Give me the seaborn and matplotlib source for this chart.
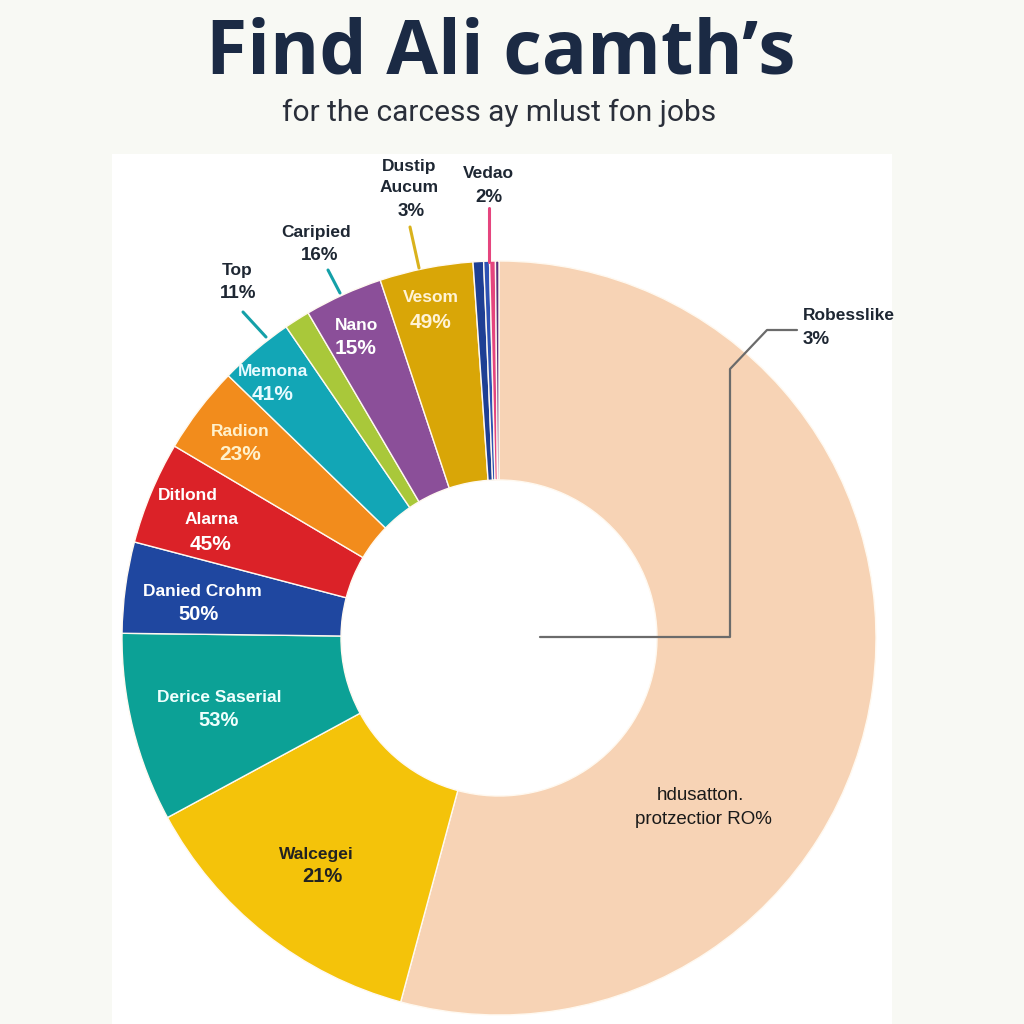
import matplotlib
matplotlib.use("Agg")
import matplotlib.pyplot as plt
import seaborn as sns
from matplotlib.patches import Rectangle

# ---------------- data ----------------
categories = ["hdusatton. protzectior", "Walcegei", "Derice Saserial", "Danied Crohm",
              "Ditlond Alarna", "Radion", "Memona", "Top", "Nano", "Vesom",
              "Dustip Aucum", "Caripied", "Vedao", "Robesslike"]
# slice sizes (share of the ring, %)
shares = [54.2, 12.9, 8.1, 3.9, 4.4, 3.75, 3.2, 1.1, 3.35, 4.0, 0.45, 0.25, 0.25, 0.15]
# percentages printed on the chart
printed = ["RO%", "21%", "53%", "50%", "45%", "23%", "41%", "11%", "15%", "49%",
           "3%", "16%", "2%", "3%"]
colors = ["#F7D3B5", "#F4C30A", "#0CA196", "#1F47A0", "#DB2228", "#F28C1C",
          "#12A6B6", "#A9C83A", "#8B4F99", "#D9A607", "#1E3F94", "#2E52B3",
          "#E5457E", "#5C2D7A"]

title = "Find Ali camth\u2019s"
subtitle = "for the carcess ay mlust fon jobs"

# ---------------- figure ----------------
sns.set_theme(style="white")
palette = sns.color_palette(colors)
plt.rcParams["font.family"] = ["Liberation Sans", "DejaVu Sans"]

fig = plt.figure(figsize=(10.24, 10.24), dpi=100, facecolor="#F8F9F4")
ax = fig.add_axes([0, 0, 1, 1])
ax.set_facecolor("#F8F9F4")

H = 1024
Y = lambda y: H - y

# white panel
ax.add_patch(Rectangle((112, Y(1024)), 780, 870, facecolor="white", edgecolor="none", zorder=0))

cx, cy, R, r_in = 499, Y(638), 377, 158
ax.pie(shares, colors=palette, startangle=90, counterclock=False,
       radius=R, center=(cx, cy),
       wedgeprops=dict(width=R - r_in, edgecolor="#FFF9F0", linewidth=1.0),
       frame=False)
ax.set_xlim(0, H)
ax.set_ylim(0, H)
ax.set_aspect("equal")
ax.axis("off")

# titles
ax.text(501, Y(54), title, ha="center", va="center", fontsize=54, fontweight="bold",
        color="#1B2A44", family=["Open Sans", "DejaVu Sans"])
ax.text(499, Y(113), subtitle, ha="center", va="center", fontsize=21.5,
        color="#2A2F3A", family=["Roboto", "DejaVu Sans"])

W = "white"
D = "#1E2733"

def lab(x, y, s, size, color, weight="bold"):
    ax.text(x, Y(y), s, ha="center", va="center", fontsize=size, color=color,
            fontweight=weight, zorder=5)

# inside labels
lab(431, 298, categories[9], 12.5, "#FFF3D6"); lab(431, 322, printed[9], 15, "#FFF3D6")
lab(356, 325, categories[8], 12.5, W); lab(356, 348, printed[8], 15, W)
lab(273, 371, categories[6], 12.5, "#E8FBFF"); lab(273, 394, printed[6], 15, "#E8FBFF")
lab(240, 431, categories[5], 12.5, "#FFF1CC"); lab(240, 455, printed[5], 15, "#FFF1CC")
lab(188, 496, "Ditlond", 12.5, W); lab(212, 520, "Alarna", 12.5, W); lab(211, 544, printed[4], 15, W)
lab(202, 591, categories[3], 12.5, W); lab(199, 615, printed[3], 14.5, W)
lab(219, 697, categories[2], 12.5, "#EFFFFD"); lab(219, 721, printed[2], 14.5, "#EFFFFD")
lab(316, 854, categories[1], 12.5, "#222222"); lab(322, 877, printed[1], 14.5, "#222222")
lab(700, 795, "hdusatton.", 13.5, "#1A1A1A", "normal"); lab(703, 820, "protzectior " + printed[0], 13.5, "#1A1A1A", "normal")

# outer labels + leader lines
lab(237, 270, categories[7], 12.5, D); lab(238, 294, printed[7], 13.5, D)
ax.plot([243, 266], [Y(312), Y(337)], color="#14A0A8", lw=2.2, zorder=4)
lab(316, 232, categories[11], 12.5, D); lab(320, 255, printed[11], 13.5, D)
ax.plot([328, 340], [Y(270), Y(293)], color="#14A0A8", lw=2.2, zorder=4)
lab(409, 166, "Dustip", 12.5, D); lab(409, 188, "Aucum", 12.5, D); lab(411, 211, printed[10], 13.5, D)
ax.plot([410, 419], [Y(227), Y(268)], color="#D9B21C", lw=2.2, zorder=4)
lab(488, 174, categories[12], 12.5, D); lab(489, 198, printed[12], 13.5, D)
ax.plot([489, 489], [Y(208), Y(262)], color="#E5457E", lw=2.2, zorder=4)
ax.text(803, Y(316), categories[13], ha="left", va="center", fontsize=12.5, color=D, fontweight="bold")
ax.text(803, Y(339), printed[13], ha="left", va="center", fontsize=13.5, color=D, fontweight="bold")
ax.plot([540, 730, 730, 767, 797], [Y(637), Y(637), Y(369), Y(330), Y(330)],
        color="#6B6B6B", lw=1.6, zorder=4)

fig.savefig("out.png", dpi=100, facecolor=fig.get_facecolor())
